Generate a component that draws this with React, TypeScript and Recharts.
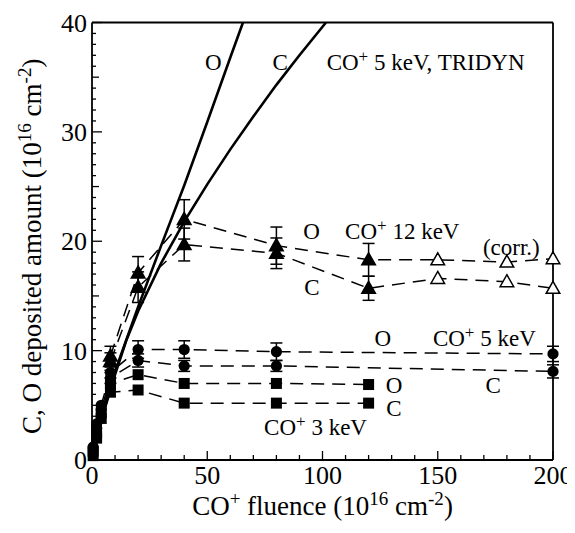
import React from 'react';
import { ScatterChart, Scatter, XAxis, YAxis, ErrorBar } from 'recharts';

const FONT = '"Liberation Serif", "Times New Roman", serif';

// TRIDYN simulation, CO+ 5 keV
const tridynOx = [0, 5, 10, 20, 30, 40, 50, 60, 65.5];
const tridynOy = [0, 4.5, 8.1, 14.0, 19.6, 25.1, 30.9, 36.8, 40];
const tridynCx = [0, 5, 10, 15, 20, 30, 40, 50, 60, 70, 80, 90, 101.5];
const tridynCy = [0, 4.3, 7.8, 11.0, 13.6, 18.0, 21.8, 25.2, 28.4, 31.4, 34.3, 37.0, 40];

// CO+ 12 keV (last three points corrected)
const fluence12 = [8, 20, 40, 80, 120, 150, 180, 200];
const corrected12 = [false, false, false, false, false, true, true, true];
const o12 = [9.5, 17.1, 22.0, 19.6, 18.3, 18.3, 18.1, 18.4];
const o12Err = [0.9, 1.5, 1.8, 1.7, 1.5, 0, 0, 0];
const c12 = [9.0, 15.8, 19.7, 18.9, 15.7, 16.6, 16.3, 15.7];
const c12Err = [0.8, 1.4, 1.5, 1.4, 1.1, 0, 0, 0];

// CO+ 5 keV
const fluence5 = [0.5, 2, 4, 8, 20, 40, 80, 200];
const o5 = [1.2, 3.3, 5.0, 8.0, 10.1, 10.1, 9.9, 9.7];
const o5Err = [0, 0, 0, 0.5, 0.8, 0.8, 0.8, 0.7];
const c5 = [1.0, 2.9, 4.6, 7.5, 9.1, 8.6, 8.6, 8.1];
const c5Err = [0, 0, 0, 0.5, 0.6, 0.5, 0.5, 0.6];

// CO+ 3 keV
const fluence3 = [0.5, 2, 4, 8, 20, 40, 80, 120];
const o3 = [0.8, 2.5, 4.3, 7.0, 7.8, 7.0, 7.0, 6.9];
const c3 = [0.4, 2.0, 3.8, 6.2, 6.4, 5.2, 5.2, 5.2];

// axis ticks
const xTicks = [0, 10, 20, 30, 40, 50, 60, 70, 80, 90, 100, 110, 120, 130, 140, 150, 160, 170, 180, 190, 200];
const yTicks = Array.from({ length: 41 }, (_, i) => i);

// annotations (data coordinates)
const labelX = [52.6, 81.6, 101.8, 95.3, 109.8, 169.6, 95.4, 126.2, 147.9, 174, 131, 131, 119.3];
const labelY = [36.4, 36.4, 36.4, 20.9, 20.9, 19.5, 15.8, 11.2, 11.2, 6.9, 6.9, 4.75, 3.0];
const labelText = ['O', 'C', 'CO^+ 5 keV, TRIDYN', 'O', 'CO^+ 12 keV', '(corr.)', 'C', 'O', 'CO^+ 5 keV', 'C', 'O', 'C', 'CO^+ 3 keV'];
const labelAnchor = ['middle', 'middle', 'start', 'middle', 'start', 'start', 'middle', 'middle', 'start', 'middle', 'middle', 'middle', 'end'];

const pts = (xs: number[], ys: number[], errs?: number[], flags?: boolean[]) =>
  xs.map((x, i) => ({ x, y: ys[i], err: errs ? errs[i] : 0, open: flags ? flags[i] : false }));

const labelData = labelX.map((x, i) => ({ x, y: labelY[i], text: labelText[i], anchor: labelAnchor[i] }));

const DASH = { stroke: '#000', strokeWidth: 1.5, strokeDasharray: '13 8' };
const SOLID = { stroke: '#000', strokeWidth: 2.6 };

const Circle = (p: any) => <circle cx={p.cx} cy={p.cy} r={5.6} fill="#000" />;
const Square = (p: any) => <rect x={p.cx - 5.5} y={p.cy - 5.5} width={11} height={11} fill="#000" />;
const Triangle = (p: any) => {
  const { cx, cy } = p;
  const open = p.payload && p.payload.open;
  const d = `M${cx},${cy - 7} L${cx + 6.8},${cy + 5} L${cx - 6.8},${cy + 5} Z`;
  return <path d={d} fill={open ? '#fff' : '#000'} stroke="#000" strokeWidth={1.5} />;
};
const Nothing = () => <g />;

const LabelShape = (p: any) => {
  const { cx, cy, payload } = p;
  const t: string = payload.text;
  const idx = t.indexOf('^');
  const common = { fontFamily: FONT, fontSize: 23, fill: '#000' };
  if (idx < 0) {
    return (
      <text x={cx} y={cy} dy="0.35em" textAnchor={payload.anchor} {...common}>{t}</text>
    );
  }
  const pre = t.slice(0, idx);
  const sup = t.slice(idx + 1, idx + 2);
  const post = t.slice(idx + 2);
  return (
    <text x={cx} y={cy} dy="0.35em" textAnchor={payload.anchor} {...common}>
      <tspan>{pre}</tspan>
      <tspan dy={-8} fontSize={17}>{sup}</tspan>
      <tspan dy={8}>{post}</tspan>
    </text>
  );
};

const BottomTick = (p: any) => {
  const { x, y, payload } = p;
  const v = payload.value;
  const major = v % 50 === 0;
  return (
    <g>
      <line x1={x} x2={x} y1={y} y2={y - (major ? 9 : 5)} stroke="#000" strokeWidth={1.3} />
      {major ? (
        <text x={x} y={y + 24} textAnchor="middle" fontFamily={FONT} fontSize={26} fill="#000">{v}</text>
      ) : null}
    </g>
  );
};
const TopTick = (p: any) => {
  const { x, y, payload } = p;
  const major = payload.value % 50 === 0;
  return <line x1={x} x2={x} y1={y} y2={y + (major ? 9 : 5)} stroke="#000" strokeWidth={1.3} />;
};
const yLen = (v: number) => (v % 10 === 0 ? 10 : v % 5 === 0 ? 7 : 4);
const LeftTick = (p: any) => {
  const { x, y, payload } = p;
  const v = payload.value;
  return (
    <g>
      <line x1={x} x2={x + yLen(v)} y1={y} y2={y} stroke="#000" strokeWidth={1.3} />
      {v % 10 === 0 ? (
        <text x={x - 5} y={y} dy="0.35em" textAnchor="end" fontFamily={FONT} fontSize={26} fill="#000">{v}</text>
      ) : null}
    </g>
  );
};
const RightTick = (p: any) => {
  const { x, y, payload } = p;
  return <line x1={x} x2={x - yLen(payload.value)} y1={y} y2={y} stroke="#000" strokeWidth={1.3} />;
};

const YTitle = (p: any) => {
  const vb = p.viewBox || { x: 83, y: 14.5, width: 1, height: 437.5 };
  const cx = vb.x + (vb.width || 0) - 60;
  const cy = vb.y + vb.height / 2 + 5;
  return (
    <text x={cx} y={cy} transform={`rotate(-90, ${cx}, ${cy})`} textAnchor="middle" dy="0.35em" fontFamily={FONT} fontSize={27} fill="#000">
      <tspan>C, O deposited amount (10</tspan>
      <tspan dy={-10} fontSize={19}>16</tspan>
      <tspan dy={10}> cm</tspan>
      <tspan dy={-10} fontSize={19}>-2</tspan>
      <tspan dy={10}>)</tspan>
    </text>
  );
};
const XTitle = (p: any) => {
  const vb = p.viewBox || { x: 84, y: 452, width: 461 };
  const cx = vb.x + vb.width / 2;
  const cy = vb.y + 55;
  return (
    <text x={cx} y={cy} textAnchor="middle" fontFamily={FONT} fontSize={27} fill="#000">
      <tspan>CO</tspan>
      <tspan dy={-10} fontSize={19}>+</tspan>
      <tspan dy={10}> fluence (10</tspan>
      <tspan dy={-10} fontSize={19}>16</tspan>
      <tspan dy={10}> cm</tspan>
      <tspan dy={-10} fontSize={19}>-2</tspan>
      <tspan dy={10}>)</tspan>
    </text>
  );
};

const AXIS_LINE = { stroke: '#000', strokeWidth: 1.8 };

export default function App() {
  return (
    <div>
      <style>{'html, body { overflow: hidden; } .recharts-wrapper, .recharts-surface { overflow: visible !important; }'}</style>
      <ScatterChart width={567} height={517} margin={{ top: 13.5, left: 83, right: 21, bottom: 64 }} style={{ overflow: 'visible' }}>
        <XAxis
          dataKey="x" type="number" domain={[0, 200]} ticks={xTicks} interval={0} height={1}
          tickLine={false} tickSize={0} tickMargin={0} tick={<BottomTick />} axisLine={AXIS_LINE}
          label={<XTitle />}
        />
        <XAxis
          xAxisId="top" orientation="top" dataKey="x" type="number" domain={[0, 200]} ticks={xTicks} interval={0}
          height={1} tickLine={false} tickSize={0} tickMargin={0} tick={<TopTick />} axisLine={AXIS_LINE}
        />
        <YAxis
          dataKey="y" type="number" domain={[0, 40]} ticks={yTicks} interval={0} width={1}
          tickLine={false} tickSize={0} tickMargin={0} tick={<LeftTick />} axisLine={AXIS_LINE}
          label={<YTitle />}
        />
        <YAxis
          yAxisId="right" orientation="right" dataKey="y" type="number" domain={[0, 40]} ticks={yTicks} interval={0}
          width={1} tickLine={false} tickSize={0} tickMargin={0} tick={<RightTick />} axisLine={AXIS_LINE}
        />

        <Scatter data={pts(tridynOx, tridynOy)} line={SOLID} lineType="joint" shape={Nothing} isAnimationActive={false} />
        <Scatter data={pts(tridynCx, tridynCy)} line={SOLID} lineType="joint" shape={Nothing} isAnimationActive={false} />

        <Scatter data={pts(fluence3, o3)} line={DASH} lineType="joint" shape={Square} isAnimationActive={false} />
        <Scatter data={pts(fluence3, c3)} line={DASH} lineType="joint" shape={Square} isAnimationActive={false} />

        <Scatter data={pts(fluence5, o5, o5Err)} line={DASH} lineType="joint" shape={Circle} isAnimationActive={false}>
          <ErrorBar dataKey="err" direction="y" width={6} stroke="#000" strokeWidth={1.5} />
        </Scatter>
        <Scatter data={pts(fluence5, c5, c5Err)} line={DASH} lineType="joint" shape={Circle} isAnimationActive={false}>
          <ErrorBar dataKey="err" direction="y" width={6} stroke="#000" strokeWidth={1.5} />
        </Scatter>

        <Scatter data={pts(fluence12, o12, o12Err, corrected12)} line={DASH} lineType="joint" shape={Triangle} isAnimationActive={false}>
          <ErrorBar dataKey="err" direction="y" width={6} stroke="#000" strokeWidth={1.5} />
        </Scatter>
        <Scatter data={pts(fluence12, c12, c12Err, corrected12)} line={DASH} lineType="joint" shape={Triangle} isAnimationActive={false}>
          <ErrorBar dataKey="err" direction="y" width={6} stroke="#000" strokeWidth={1.5} />
        </Scatter>

        <Scatter data={labelData} shape={LabelShape} isAnimationActive={false} />
      </ScatterChart>
    </div>
  );
}
